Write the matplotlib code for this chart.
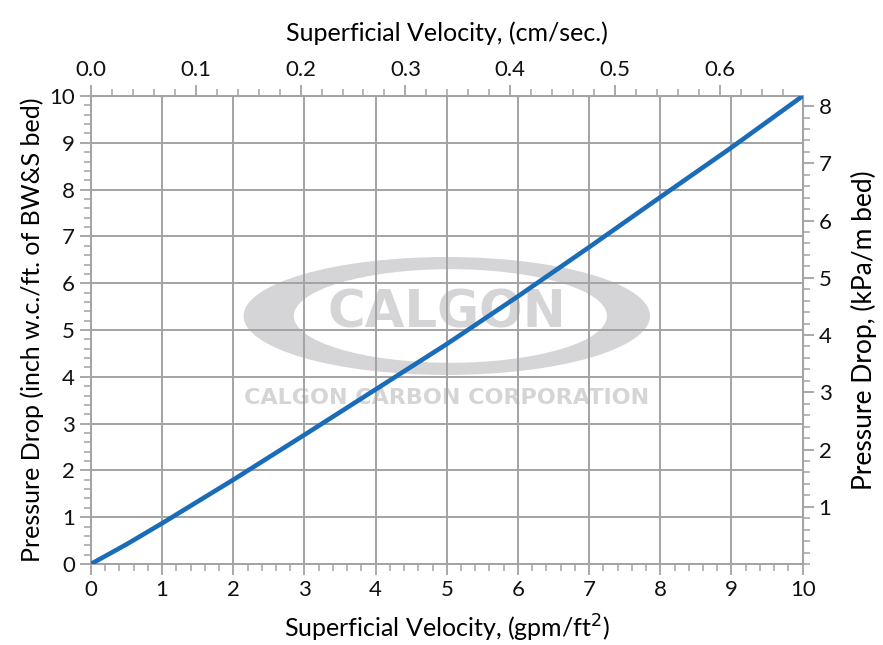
import matplotlib
matplotlib.use('Agg')
import matplotlib.pyplot as plt
from matplotlib.patches import Ellipse
from matplotlib.ticker import MultipleLocator, FormatStrFormatter, FixedLocator

plt.rcParams['font.family'] = ['Lato', 'DejaVu Sans']

# data
velocity_gpm = [0, 0.5, 1, 2, 3, 4, 5, 6, 7, 8, 9, 10]
pressure_drop = [0, 0.42, 0.87, 1.8, 2.76, 3.73, 4.7, 5.72, 6.77, 7.84, 8.9, 10.0]
right_ticks = [1, 2, 3, 4, 5, 6, 7, 8]

GPM_TO_CMS = 0.0679      # gpm/ft2 -> cm/sec
INWC_TO_KPA = 0.8176     # inch w.c./ft -> kPa/m

grid_col = '#a3a3a3'
logo_col = '#d5d5d7'

fig = plt.figure(figsize=(8.83, 6.45), dpi=100)
ax = fig.add_axes([0.103, 0.1256, 0.806, 0.7255])

# Calgon watermark
ax.add_patch(Ellipse((0.5, 0.53), 0.571, 0.252, transform=ax.transAxes,
                     color=logo_col, lw=0, zorder=0))
ax.add_patch(Ellipse((0.505, 0.53), 0.44, 0.2, transform=ax.transAxes,
                     color='white', lw=0, zorder=0))
ax.text(0.5, 0.535, 'CALGON', transform=ax.transAxes, ha='center', va='center',
        fontsize=37, fontweight='bold', color=logo_col, zorder=0.5,
        family=['DejaVu Sans'])
ax.text(0.5, 0.355, 'CALGON CARBON CORPORATION', transform=ax.transAxes,
        ha='center', va='center', fontsize=16, fontweight='bold',
        color=logo_col, zorder=0.5, family=['DejaVu Sans'])

ax.plot(velocity_gpm, pressure_drop, color='#1b6cb8', lw=3.3,
        solid_capstyle='round', zorder=5)

ax.set_xlim(0, 10)
ax.set_ylim(0, 10)
ax.xaxis.set_major_locator(MultipleLocator(1))
ax.xaxis.set_minor_locator(MultipleLocator(0.2))
ax.yaxis.set_major_locator(MultipleLocator(1))
ax.yaxis.set_minor_locator(MultipleLocator(0.2))
ax.grid(True, which='major', color=grid_col, lw=1.4, zorder=1)
for sp in ax.spines.values():
    sp.set_color(grid_col)
    sp.set_linewidth(1.4)

tick_kw = dict(direction='out', color=grid_col, labelsize=16, labelcolor='#111111')
minor_kw = dict(length=5, width=1.1, direction='out', color=grid_col)
ax.tick_params(which='major', length=8, width=1.3, **tick_kw)
ax.tick_params(which='minor', **minor_kw)

ax.set_xlabel('Superficial Velocity, (gpm/ft$^2$)', fontsize=18, labelpad=9)
ax.set_ylabel('Pressure Drop (inch w.c./ft. of BW&S bed)', fontsize=18, labelpad=4)

top = ax.secondary_xaxis('top', functions=(lambda x: x * GPM_TO_CMS,
                                           lambda x: x / GPM_TO_CMS))
top.xaxis.set_major_locator(MultipleLocator(0.1))
top.xaxis.set_minor_locator(MultipleLocator(0.02))
top.xaxis.set_major_formatter(FormatStrFormatter('%.1f'))
top.tick_params(which='major', length=8, width=1.3, **tick_kw)
top.tick_params(which='minor', **minor_kw)
top.spines['top'].set_color(grid_col)
top.set_xlabel('Superficial Velocity, (cm/sec.)', fontsize=18, labelpad=14)

right = ax.secondary_yaxis('right', functions=(lambda y: y * INWC_TO_KPA,
                                               lambda y: y / INWC_TO_KPA))
right.yaxis.set_major_locator(FixedLocator(right_ticks))
right.yaxis.set_minor_locator(MultipleLocator(0.2))
right.tick_params(which='major', length=8, width=1.3, **tick_kw)
right.tick_params(which='minor', **minor_kw)
right.spines['right'].set_color(grid_col)
right.set_ylabel('Pressure Drop, (kPa/m bed)', fontsize=19, labelpad=14)

fig.savefig('out.png', dpi=100)
